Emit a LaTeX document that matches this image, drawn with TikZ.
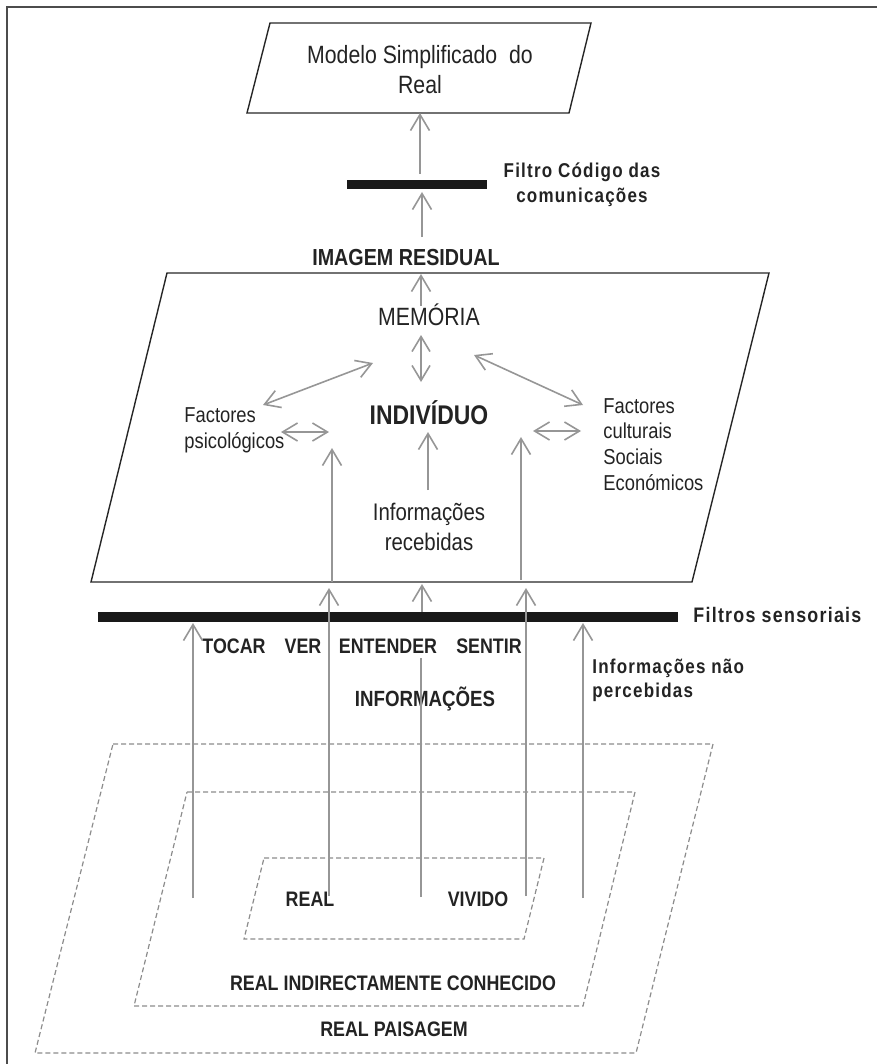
\documentclass[tikz,border=0pt]{standalone}
\usepackage{fontspec}
\setmainfont{Liberation Sans}[FakeStretch=0.85]
\newfontfamily\espacado{Liberation Sans}[FakeStretch=0.85, LetterSpace=6]
\usetikzlibrary{arrows.meta}
\definecolor{cinza}{RGB}{150,150,150}
\definecolor{traco}{RGB}{140,140,140}
\definecolor{tinta}{RGB}{35,35,35}

\begin{document}
\begin{tikzpicture}[x = 0.5pt, y = -0.5pt,
                        seta/.style = {draw = cinza, line width = 0.8pt, -{Straight Barb[length = 8pt, width = 9.5pt]}},
                        linha/.style = {draw = cinza, line width = 0.8pt},
                        dupla/.style = {draw = cinza, line width = 0.8pt, {Straight Barb[length = 7.5pt, width = 9pt]}-{Straight Barb[length = 7.5pt, width = 9pt]}},
                        caixa/.style = {draw = black!85, line width = 0.7pt},
                        zona/.style = {draw = traco, line width = 0.6pt, dash pattern = on 2.5pt off 1.5pt},
                        barra/.style = {rectangle, fill = black!90, inner sep = 0pt},
                        texto/.style = {text = tinta, inner sep = 0pt},
                        forte/.style = {text = tinta, inner sep = 0pt}]
      \useasboundingbox (0, 0) rectangle (877, 1064);
      \draw [line width = 0.9pt, black!70] (7, 1064) -- (7, 7) -- (877, 7);

      \draw [caixa] (270, 23) -- (591, 23) -- (569, 113) -- (247, 113) -- cycle;
      \draw [caixa] (167, 273) -- (769, 273) -- (692, 582) -- (91, 582) -- cycle;
      \draw [zona] (113, 744) -- (713, 744) -- (636, 1053) -- (35, 1053) -- cycle;
      \draw [zona] (187, 792) -- (635, 792) -- (583, 1006) -- (134, 1006) -- cycle;
      \draw [zona] (264, 858) -- (544, 858) -- (524, 939) -- (244, 939) -- cycle;

      \node [barra, minimum width = 70pt, minimum height = 4.5pt] (filtro1) at (417, 184.5){};
      \node [barra, minimum width = 290pt, minimum height = 5pt] (filtro2) at (388, 617){};

      \node [texto, align = center, font = \fontsize{12.5}{15}\selectfont] (modelo) at (420, 70){Modelo Simplificado\ \ do\\Real};
      \node [forte, align = center, font = \espacado\fontsize{10}{12.5}\selectfont\bfseries] (codigo) at (582, 185){Filtro Código das\\comunicações};
      \node [forte, anchor = base, font = \fontsize{11.6}{14}\selectfont\bfseries] (imagem) at (406, 265){IMAGEM RESIDUAL};
      \node [texto, anchor = base, font = \fontsize{12.5}{14}\selectfont] (memoria) at (429, 325){MEMÓRIA};
      \node [forte, anchor = base, font = \fontsize{13.5}{16}\selectfont\bfseries] (individuo) at (429, 424){INDIVÍDUO};
      \node [texto, anchor = west, align = left, font = \fontsize{10.8}{13}\selectfont] (psico) at (184, 430){Factores\\psicológicos};
      \node [texto, anchor = west, align = left, font = \fontsize{10.8}{12.85}\selectfont] (cultura) at (603, 444.5){Factores\\culturais\\Sociais\\Económicos};
      \node [texto, align = center, font = \fontsize{12}{15}\selectfont] (recebidas) at (429, 527){Informações\\recebidas};
      \node [forte, anchor = base west, font = \espacado\fontsize{10.5}{13}\selectfont\bfseries] (filtros) at (693, 622){Filtros sensoriais};
      \node [forte, anchor = base, font = \fontsize{10.5}{13}\selectfont\bfseries] (tocar) at (234, 653){TOCAR};
      \node [forte, anchor = base, font = \fontsize{10.5}{13}\selectfont\bfseries] (ver) at (303, 653){VER};
      \node [forte, anchor = base, font = \fontsize{10.5}{13}\selectfont\bfseries] (entender) at (388, 653){ENTENDER};
      \node [forte, anchor = base, font = \fontsize{10.5}{13}\selectfont\bfseries] (sentir) at (489, 653){SENTIR};
      \node [forte, anchor = west, align = left, font = \espacado\fontsize{10}{12}\selectfont\bfseries] (naoperc) at (592, 680){Informações não\\percebidas};
      \node [forte, anchor = base, font = \fontsize{11}{13}\selectfont\bfseries] (informacoes) at (425, 706){INFORMAÇÕES};
      \node [forte, anchor = base, font = \fontsize{10.5}{13}\selectfont\bfseries] (real) at (310, 906.5){REAL};
      \node [forte, anchor = base, font = \fontsize{10.5}{13}\selectfont\bfseries] (vivido) at (478, 906.5){VIVIDO};
      \node [forte, anchor = base, font = \fontsize{10.5}{13}\selectfont\bfseries] (indirecto) at (393, 990){REAL INDIRECTAMENTE CONHECIDO};
      \node [forte, anchor = base, font = \fontsize{10.5}{13}\selectfont\bfseries] (paisagem) at (394, 1036){REAL PAISAGEM};

      \coordinate (s1) at (420, 174);   \coordinate (t1) at (420, 113);
      \coordinate (s2) at (422, 237);   \coordinate (t2) at (422, 192);
      \coordinate (s3) at (421, 306);   \coordinate (t3) at (421, 274);
      \coordinate (s4) at (428, 490);   \coordinate (t4) at (428, 432);
      \coordinate (s5) at (332, 582);   \coordinate (t5) at (332, 448);
      \coordinate (s6) at (521, 580);   \coordinate (t6) at (521, 437);
      \coordinate (s7) at (422, 612);   \coordinate (t7) at (422, 584);
      \coordinate (s8) at (329, 896);   \coordinate (t8) at (329, 588);
      \coordinate (s9) at (526, 896);   \coordinate (t9) at (526, 588);
      \coordinate (s10) at (193, 898);  \coordinate (t10) at (193, 623);
      \coordinate (s11) at (583, 898);  \coordinate (t11) at (583, 623);
      \coordinate (s12) at (421, 897);  \coordinate (t12) at (421, 658);
      \coordinate (d1a) at (421, 335);  \coordinate (d1b) at (421, 382);
      \coordinate (d2a) at (373, 363);  \coordinate (d2b) at (263, 405);
      \coordinate (d3a) at (474, 355);  \coordinate (d3b) at (583, 405);
      \coordinate (d4a) at (281, 432);  \coordinate (d4b) at (329, 432);
      \coordinate (d5a) at (533, 431);  \coordinate (d5b) at (581, 431);

      \draw [seta] (s1) -- (t1);
      \draw [seta] (s2) -- (t2);
      \draw [seta] (s3) -- (t3);
      \draw [seta] (s4) -- (t4);
      \draw [seta] (s5) -- (t5);
      \draw [seta] (s6) -- (t6);
      \draw [seta] (s7) -- (t7);
      \draw [seta] (s8) -- (t8);
      \draw [seta] (s9) -- (t9);
      \draw [seta] (s10) -- (t10);
      \draw [seta] (s11) -- (t11);
      \draw [linha] (s12) -- (t12);
      \draw [dupla] (d1a) -- (d1b);
      \draw [dupla] (d2a) -- (d2b);
      \draw [dupla] (d3a) -- (d3b);
      \draw [dupla] (d4a) -- (d4b);
      \draw [dupla] (d5a) -- (d5b);
    \end{tikzpicture}
\end{document}
